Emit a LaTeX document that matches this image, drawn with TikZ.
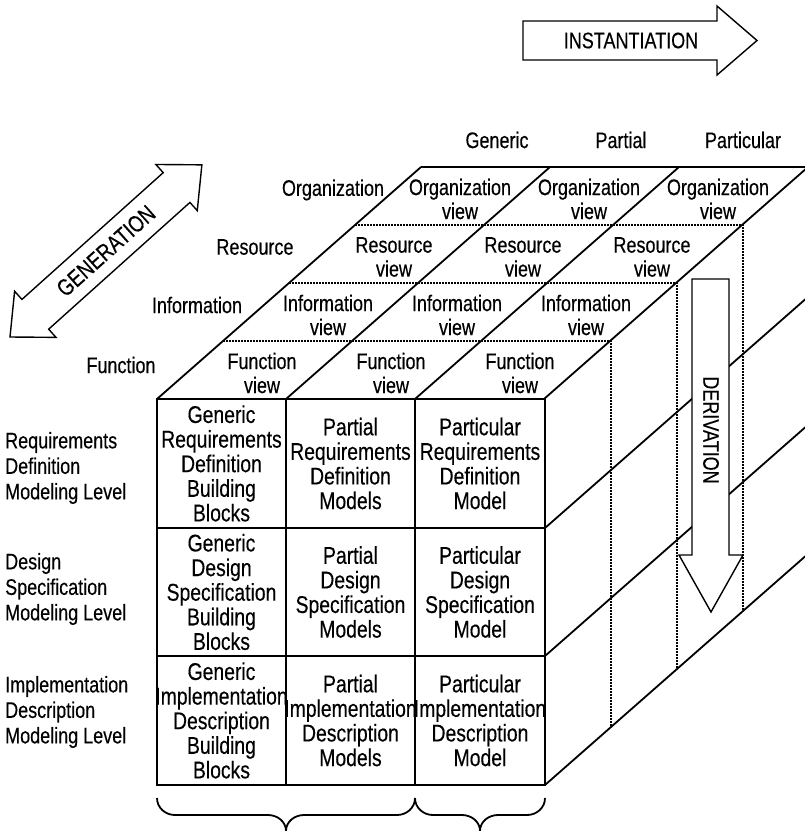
\documentclass[tikz,border=0pt]{standalone}
\usepackage{fontspec}
\setmainfont{Liberation Sans}[FakeStretch=0.8, FakeBold=0.3]
\begin{document}
\begin{tikzpicture}[x=1pt,y=-1pt,
  edge/.style={line width=1.8pt},
  hidden/.style={line width=1.6pt, dash pattern=on 1.6pt off 1.4pt},
  bigarrow/.style={draw, fill=white, line width=1.4pt, line join=miter},
  celltext/.style={align=center, inner sep=0pt, font=\fontsize{24.2}{24.6}\selectfont},
  viewtext/.style={align=center, inner sep=0pt, font=\fontsize{22.5}{24}\selectfont},
  lbl/.style={inner sep=0pt, font=\fontsize{22.5}{25.5}\selectfont},
  brace/.style={line width=1.8pt}]
\useasboundingbox (0,0) rectangle (805,831);

% ---------- cube ----------
\begin{scope}
\clip (0,0) rectangle (805,831);
% front face grid
\draw[edge] (157,399) rectangle (545,785);
\draw[edge] (286,399) -- (286,785) (415,399) -- (415,785)
            (157,528) -- (545,528) (157,656) -- (545,656);
% top face: slanted column edges and back edge
\foreach \j in {0,1,2,3}
  \draw[edge] (157+129*\j,399) -- ++(264,-232);
\draw[edge] (421,167) -- (809,167);
% right face: slanted row edges
\foreach \yy in {528,656,785}
  \draw[edge] (545,\yy) -- ++(264,-232);
% view layer boundaries (top) continuing down the right face
\foreach \k in {1,2,3}
  \draw[hidden] (157+66*\k,399-58*\k) -- (545+66*\k,399-58*\k) -- (545+66*\k,785-58*\k);
\end{scope}

% ---------- derivation arrow ----------
\draw[bigarrow] (692,279) -- (729,279) -- (729,555) -- (743,555) -- (711,612)
  -- (679,555) -- (692,555) -- cycle;
\node[lbl, rotate=-90] (deriv) at (711,430) {DERIVATION};

% ---------- instantiation arrow ----------
\draw[bigarrow] (523,21) -- (717,21) -- (717,6) -- (757,40.5) -- (717,75)
  -- (717,60) -- (523,60) -- cycle;
\node[lbl] (inst) at (631,40.5) {INSTANTIATION};

% ---------- generation arrow ----------
\begin{scope}[shift={(10,337)}, rotate=41.9]
\draw[bigarrow] (0,0) -- (34,31) -- (34,20) -- (223.8,20) -- (223.8,31) -- (257.8,0)
  -- (223.8,-31) -- (223.8,-20) -- (34,-20) -- (34,-31) -- cycle;
\node[lbl, font=\fontsize{23.5}{24}\selectfont, rotate=41.9] (gen) at (128.9,0) {GENERATION};
\end{scope}

% ---------- column and layer labels ----------
\node[lbl] (generic)    at (497,140) {Generic};
\node[lbl] (partial)    at (621,140) {Partial};
\node[lbl] (particular) at (743,140) {Particular};
\node[lbl] (orgL)  at (333,190) {Organization};
\node[lbl] (resL)  at (255,247) {Resource};
\node[lbl] (infL)  at (197,305) {Information};
\node[lbl] (funL)  at (121,365) {Function};

% ---------- level labels ----------
\node[lbl, anchor=west, align=left] (lev1) at (5,468) {Requirements\\Definition\\Modeling Level};
\node[lbl, anchor=west, align=left] (lev2) at (5,589) {Design\\Specification\\Modeling Level};
\node[lbl, anchor=west, align=left] (lev3) at (5,712) {Implementation\\Description\\Modeling Level};

% ---------- views on the top face ----------
\foreach \name [count=\k from 0] in {Function,Information,Resource,Organization}
  \foreach \j in {0,1,2}
    \node[viewtext] (v\k\j) at (262+129*\j+66*\k, 373-58*\k) {\name\\view};

% ---------- model cells on the front face ----------
\node[celltext] (c11) at (221.5,463.5) {Generic\\Requirements\\Definition\\Building\\Blocks};
\node[celltext] (c12) at (350.5,463.5) {Partial\\Requirements\\Definition\\Models};
\node[celltext] (c13) at (480,463.5) {Particular\\Requirements\\Definition\\Model};
\node[celltext] (c21) at (221.5,592) {Generic\\Design\\Specification\\Building\\Blocks};
\node[celltext] (c22) at (350.5,592) {Partial\\Design\\Specification\\Models};
\node[celltext] (c23) at (480,592) {Particular\\Design\\Specification\\Model};
\node[celltext] (c31) at (221.5,720.5) {Generic\\Implementation\\Description\\Building\\Blocks};
\node[celltext] (c32) at (350.5,720.5) {Partial\\Implementation\\Description\\Models};
\node[celltext] (c33) at (480,720.5) {Particular\\Implementation\\Description\\Model};

% ---------- braces under the columns ----------
\draw[brace] (157,798) to[out=-90,in=180] (175,815) -- (268,815)
  to[out=0,in=90] (286,831) to[out=90,in=180] (304,815) -- (397,815)
  to[out=0,in=-90] (415,798);
\draw[brace] (415,798) to[out=-90,in=180] (433,815) -- (462,815)
  to[out=0,in=90] (480,831) to[out=90,in=180] (498,815) -- (527,815)
  to[out=0,in=-90] (545,798);
\end{tikzpicture}
\end{document}
